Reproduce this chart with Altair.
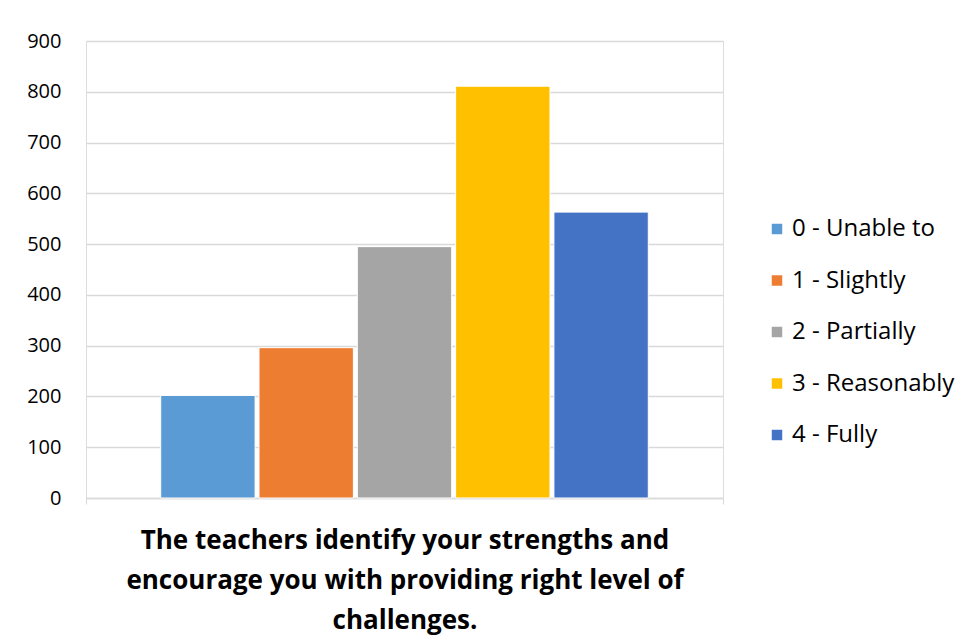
import altair as alt
import pandas as pd

series = ["0 - Unable to", "1 - Slightly", "2 - Partially", "3 - Reasonably", "4 - Fully"]
values = [202, 296, 495, 811, 563]
colors = ["#5B9BD5", "#ED7D31", "#A5A5A5", "#FFC000", "#4472C4"]
category = "The teachers identify your strengths and encourage you with providing right level of challenges."
title_lines = ["The teachers identify your strengths and",
               "encourage you with providing right level of",
               "challenges."]
y_ticks = [0, 100, 200, 300, 400, 500, 600, 700, 800, 900]

df = pd.DataFrame({"category": [category] * len(series), "series": series, "value": values})

FONT = "Open Sans"

chart = alt.Chart(df).mark_bar(stroke="white", strokeWidth=1).encode(
    x=alt.X("category:N", title=title_lines,
            scale=alt.Scale(paddingInner=0, paddingOuter=0),
            axis=alt.Axis(labels=False, tickBand="extent", ticks=True, tickSize=6, grid=False,
                          tickColor="#d9d9d9", domainColor="#d9d9d9", domainWidth=1.5,
                          titleFont=FONT, titleFontSize=26, titleFontWeight="bold",
                          titleColor="#000000", titlePadding=23, titleLineHeight=40)),
    xOffset=alt.XOffset("series:N", sort=series,
                        scale=alt.Scale(paddingInner=0.04, paddingOuter=0.76)),
    y=alt.Y("value:Q", title=None,
            scale=alt.Scale(domain=[0, 900], nice=False),
            axis=alt.Axis(values=y_ticks, domain=False, ticks=False, labelPadding=25,
                          labelFont=FONT, labelFontSize=20, labelColor="#000000",
                          gridColor="#d9d9d9", gridWidth=1.5)),
    color=alt.Color("series:N", sort=series,
                    scale=alt.Scale(domain=series, range=colors),
                    legend=alt.Legend(title=None, orient="none", legendX=679, legendY=176,
                                      symbolType="square",
                                      symbolSize=110, symbolStrokeWidth=0,
                                      labelFont=FONT, labelFontSize=24, labelColor="#000000",
                                      labelLimit=400,
                                      rowPadding=27.5, labelOffset=3)),
).properties(
    width=637, height=457,
    padding={"left": 18, "top": 23, "right": 5, "bottom": 5},
).configure_view(stroke=None).configure(background="white")

chart.save("out.html", embed_options={"renderer": "svg", "actions": False})
